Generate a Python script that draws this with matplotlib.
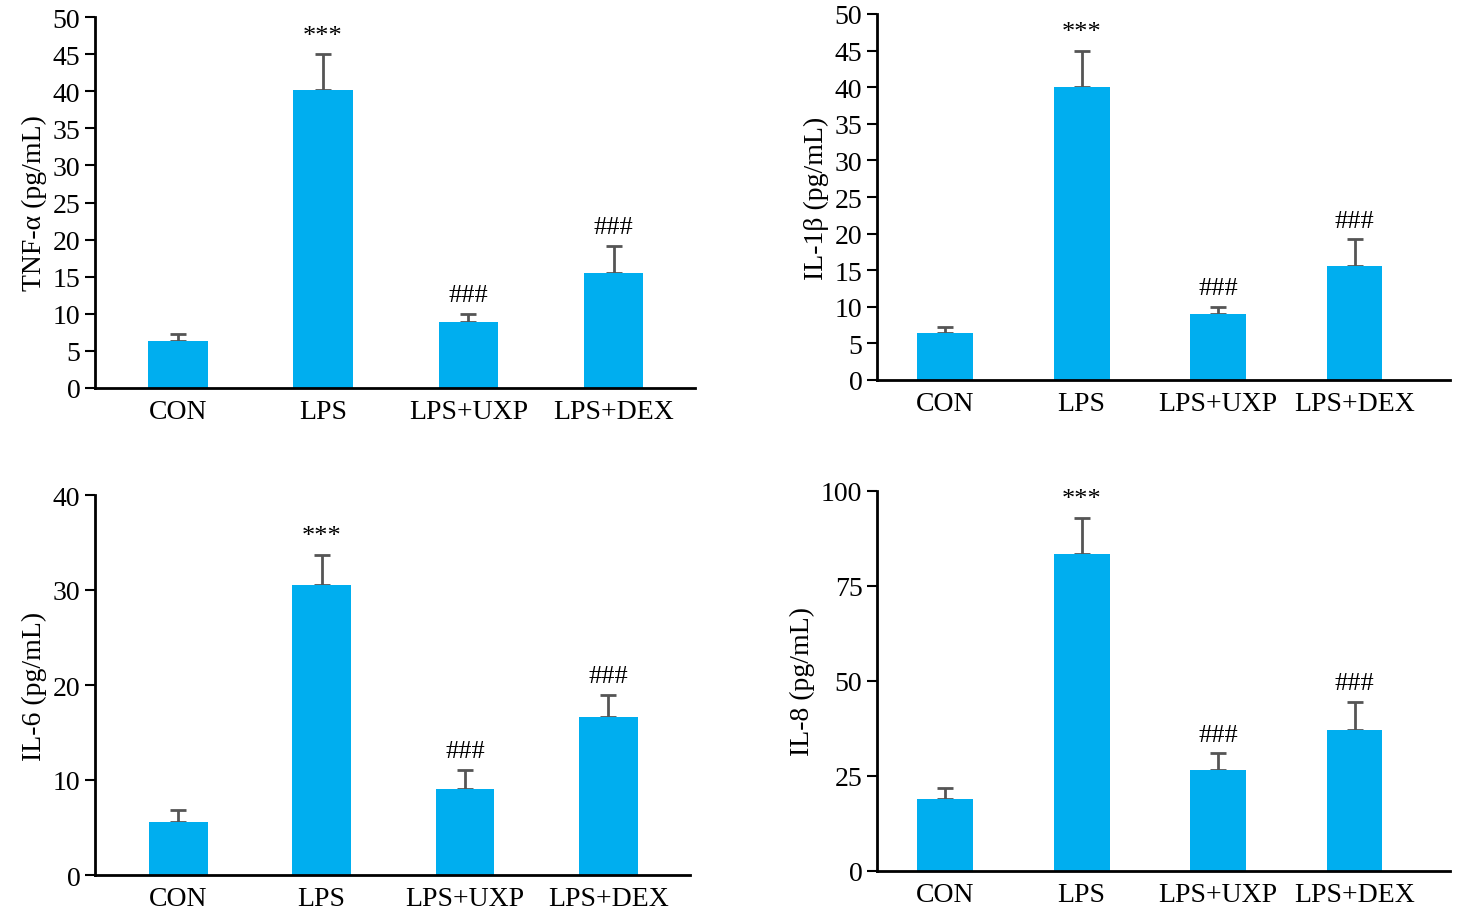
import matplotlib.pyplot as plt

plt.rcParams['font.family'] = ['Liberation Serif', 'DejaVu Serif']

groups = ["CON", "LPS", "LPS+UXP", "LPS+DEX"]

tnf = [6.3, 40.2, 8.9, 15.5]
tnf_err = [1.0, 4.8, 1.1, 3.7]
il1b = [6.4, 40.0, 9.0, 15.6]
il1b_err = [0.9, 5.0, 1.0, 3.6]
il6 = [5.6, 30.5, 9.1, 16.6]
il6_err = [1.2, 3.2, 2.0, 2.4]
il8 = [19.0, 83.5, 26.5, 37.0]
il8_err = [2.8, 9.5, 4.5, 7.5]

marks = ["", "***", "###", "###"]

W, H = 1464, 920
fig = plt.figure(figsize=(W / 100, H / 100), dpi=100)

def panel(box, vals, errs, ylabel, ymax, step, xlim):
    l, t, r, b = box
    ax = fig.add_axes([l / W, 1 - b / H, (r - l) / W, (b - t) / H])
    x = range(len(groups))
    ax.bar(x, vals, width=0.41, color='#00AEEF', zorder=2)
    ax.errorbar(x, vals, yerr=[[0] * 4, errs], fmt='none', ecolor='#555555',
                elinewidth=2, capsize=6, capthick=2, zorder=1)
    for i in x:
        if marks[i]:
            ax.text(i, vals[i] + errs[i] + ymax * 0.02, marks[i], ha='center',
                    va='bottom', fontsize=19)
    ax.set_ylim(0, ymax)
    ax.set_xlim(*xlim)
    ax.set_yticks(range(0, ymax + 1, step))
    ax.set_xticks(list(x))
    ax.set_xticklabels(groups)
    ax.tick_params(axis='y', labelsize=20, width=1.5, length=7)
    ax.tick_params(axis='x', labelsize=20, length=0, pad=8)
    ax.set_ylabel(ylabel, fontsize=20)
    for s in ['top', 'right']:
        ax.spines[s].set_visible(False)
    for s in ['left', 'bottom']:
        ax.spines[s].set_linewidth(2)
    return ax

panel((95, 18, 695, 389), tnf, tnf_err, "TNF-α (pg/mL)", 50, 5, (-0.57, 3.56))
panel((877, 15, 1450, 381), il1b, il1b_err, "IL-1β (pg/mL)", 50, 5, (-0.5, 3.7))
panel((95, 496, 690, 876), il6, il6_err, "IL-6 (pg/mL)", 40, 10, (-0.58, 3.57))
panel((877, 492, 1450, 872), il8, il8_err, "IL-8 (pg/mL)", 100, 25, (-0.5, 3.7))

fig.savefig("out.png", dpi=100)
